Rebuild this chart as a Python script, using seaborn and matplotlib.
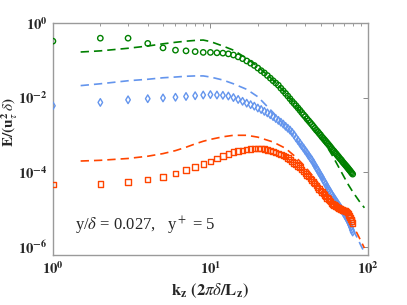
import matplotlib
matplotlib.use("Agg")
import matplotlib.pyplot as plt
import matplotlib.ticker as mticker
import numpy as np
import pandas as pd
import seaborn as sns

# spanwise wavenumber of the DNS samples
kz_points = list(range(1, 81))

# energy spectra (symbols)
E_green = [
    0.324, 0.389, 0.389, 0.282, 0.214, 0.186, 0.178, 0.170, 0.162, 0.162,
    0.158, 0.155, 0.148, 0.138, 0.123, 0.110, 0.0955, 0.0832, 0.0724, 0.0617,
    0.0525, 0.0457, 0.0389, 0.0331, 0.0282, 0.0245, 0.0214, 0.0178, 0.0151, 0.0129,
    0.0110, 9.33e-3, 7.94e-3, 6.92e-3, 6.03e-3, 5.25e-3, 4.57e-3, 3.98e-3, 3.47e-3, 3.09e-3,
    2.69e-3, 2.40e-3, 2.14e-3, 1.91e-3, 1.70e-3, 1.51e-3, 1.35e-3, 1.23e-3, 1.10e-3, 1.00e-3,
    8.91e-4, 8.13e-4, 7.41e-4, 6.76e-4, 6.17e-4, 5.62e-4, 5.13e-4, 4.68e-4, 4.27e-4, 3.89e-4,
    3.63e-4, 3.31e-4, 3.09e-4, 2.82e-4, 2.63e-4, 2.40e-4, 2.24e-4, 2.09e-4, 1.91e-4, 1.78e-4,
    1.66e-4, 1.55e-4, 1.45e-4, 1.35e-4, 1.26e-4, 1.17e-4, 1.10e-4, 1.02e-4, 9.55e-5, 8.91e-5,
]
E_blue = [
    6.03e-3, 7.41e-3, 8.71e-3, 9.33e-3, 9.77e-3, 1.02e-2, 1.07e-2, 1.12e-2, 1.17e-2, 1.20e-2,
    1.17e-2, 1.15e-2, 1.10e-2, 1.00e-2, 8.91e-3, 7.94e-3, 7.08e-3, 6.46e-3, 5.89e-3, 5.25e-3,
    4.79e-3, 4.27e-3, 3.89e-3, 3.47e-3, 3.09e-3, 2.75e-3, 2.45e-3, 2.19e-3, 1.95e-3, 1.70e-3,
    1.51e-3, 1.35e-3, 1.17e-3, 1.00e-3, 8.32e-4, 7.08e-4, 6.03e-4, 5.13e-4, 4.47e-4, 3.80e-4,
    3.31e-4, 2.82e-4, 2.45e-4, 2.14e-4, 1.82e-4, 1.55e-4, 1.32e-4, 1.15e-4, 9.77e-5, 8.51e-5,
    7.41e-5, 6.31e-5, 5.50e-5, 4.79e-5, 4.17e-5, 3.63e-5, 3.24e-5, 2.82e-5, 2.51e-5, 2.24e-5,
    2.04e-5, 1.82e-5, 1.66e-5, 1.48e-5, 1.35e-5, 1.23e-5, 1.12e-5, 1.00e-5, 9.12e-6, 8.32e-6,
    7.59e-6, 6.76e-6, 6.17e-6, 5.62e-6, 5.01e-6, 4.47e-6, 3.89e-6, 3.39e-6, 2.88e-6, 2.51e-6,
]
E_red = [
    4.79e-5, 4.90e-5, 5.50e-5, 6.31e-5, 7.41e-5, 9.12e-5, 1.15e-4, 1.38e-4, 1.66e-4, 1.95e-4,
    2.34e-4, 2.75e-4, 3.09e-4, 3.47e-4, 3.72e-4, 3.89e-4, 4.07e-4, 4.17e-4, 4.27e-4, 4.27e-4,
    4.27e-4, 4.17e-4, 3.98e-4, 3.80e-4, 3.63e-4, 3.39e-4, 3.16e-4, 3.02e-4, 2.82e-4, 2.63e-4,
    2.40e-4, 2.19e-4, 1.95e-4, 1.78e-4, 1.62e-4, 1.48e-4, 1.32e-4, 1.17e-4, 1.05e-4, 9.33e-5,
    8.32e-5, 7.59e-5, 6.76e-5, 6.17e-5, 5.50e-5, 5.01e-5, 4.47e-5, 3.98e-5, 3.55e-5, 3.24e-5,
    2.95e-5, 2.69e-5, 2.45e-5, 2.24e-5, 2.04e-5, 1.91e-5, 1.74e-5, 1.62e-5, 1.48e-5, 1.38e-5,
    1.32e-5, 1.26e-5, 1.20e-5, 1.15e-5, 1.10e-5, 1.07e-5, 1.05e-5, 1.00e-5, 9.77e-6, 9.55e-6,
    9.33e-6, 9.12e-6, 8.91e-6, 8.32e-6, 7.59e-6, 6.92e-6, 6.17e-6, 5.50e-6, 4.90e-6, 4.37e-6,
]

# model curves (dashed)
kz_model = [1.5, 2, 3, 4, 5, 6, 7, 8, 9, 10, 12, 14, 17, 20, 25, 30, 35, 40, 45,
            50, 55, 60, 65, 70, 75, 80, 85, 90, 95]
M_green = [0.166, 0.178, 0.209, 0.240, 0.275, 0.302, 0.324, 0.339, 0.347, 0.316,
           0.240, 0.186, 0.112, 0.0676, 0.0295, 0.0132, 6.03e-3, 2.82e-3, 1.41e-3,
           8.32e-4, 4.79e-4, 2.63e-4, 1.41e-4, 7.94e-5, 4.68e-5, 3.02e-5, 2.09e-5,
           1.48e-5, 1.12e-5]
M_blue = [0.0209, 0.0234, 0.0282, 0.0309, 0.0339, 0.0355, 0.0372, 0.0380, 0.0380, 0.0355,
          0.0295, 0.0234, 0.0166, 0.0105, 3.98e-3, 1.66e-3, 7.41e-4, 3.55e-4, 1.70e-4,
          8.32e-5, 4.27e-5, 2.34e-5, 1.35e-5, 7.94e-6, 4.79e-6, 2.95e-6, 1.86e-6,
          1.12e-6, 7.08e-7]
M_red = [2.00e-4, 2.09e-4, 2.34e-4, 2.69e-4, 3.16e-4, 3.80e-4, 4.68e-4, 5.75e-4, 6.76e-4,
         7.59e-4, 8.91e-4, 9.77e-4, 9.77e-4, 8.71e-4, 6.46e-4, 4.37e-4, 2.51e-4, 1.41e-4,
         7.59e-5, 4.17e-5, 2.51e-5, 1.58e-5, 1.12e-5, 7.94e-6, 5.37e-6, 3.55e-6, 2.40e-6,
         1.48e-6, 9.33e-7]

series = [
    ("green", "o", E_green, M_green),
    ("cornflowerblue", "d", E_blue, M_blue),
    ("orangered", "s", E_red, M_red),
]

sns.set_style("white")
plt.rcParams["font.family"] = ["Liberation Serif", "DejaVu Serif"]
plt.rcParams["mathtext.fontset"] = "stix"

fig = plt.figure(figsize=(4.07, 3.05), dpi=100)
ax = fig.add_axes([0.130, 0.164, 0.774, 0.761])

for color, marker, E_dns, E_model in series:
    model_df = pd.DataFrame({"kz": kz_model, "E": E_model})
    sns.lineplot(data=model_df, x="kz", y="E", ax=ax, color=color,
                 linewidth=1.2, dashes=False, linestyle=(0, (5, 3)))
    dns_df = pd.DataFrame({"kz": kz_points, "E": E_dns})
    sns.scatterplot(data=dns_df, x="kz", y="E", ax=ax, marker=marker, s=15,
                    facecolor="none", edgecolor=color, linewidth=1.0, zorder=3)

ax.set_xscale("log")
ax.set_yscale("log")
ax.set_xlim(1, 100)
ax.set_ylim(6.1e-7, 1)
ax.set_xlabel("")
ax.set_ylabel("")

ax.set_yticks([1e-6, 1e-4, 1e-2, 1])
ax.yaxis.set_minor_locator(mticker.NullLocator())
fmt = mticker.FuncFormatter(lambda v, _: r"$\mathbf{10^{%d}}$" % round(np.log10(v)))
ax.xaxis.set_major_formatter(fmt)
ax.yaxis.set_major_formatter(fmt)

for side in ax.spines.values():
    side.set_color("#9a9a9a")
    side.set_linewidth(1.0)
ax.tick_params(which="both", direction="in", top=True, right=True,
               color="#8a8a8a", labelsize=10.5, pad=4)
ax.tick_params(which="major", length=3.5, width=0.7)
ax.tick_params(which="minor", length=2, width=0.6)

ax.set_xlabel(r"$\mathbf{k_z\ (2}\pi\delta\mathbf{/L_z)}$", fontsize=12, labelpad=3)
ax.set_ylabel(r"$\mathbf{E/(u}_{\tau}^{\mathbf{2}}\,\delta\mathbf{)}$", fontsize=11)
ax.yaxis.set_label_coords(-0.105, 0.57)

ax.text(0.07, 0.125, r"y/$\delta$ = 0.027,   y$^+$ = 5", transform=ax.transAxes,
        fontsize=12, va="center", ha="left")

fig.savefig("out.png", dpi=100)
